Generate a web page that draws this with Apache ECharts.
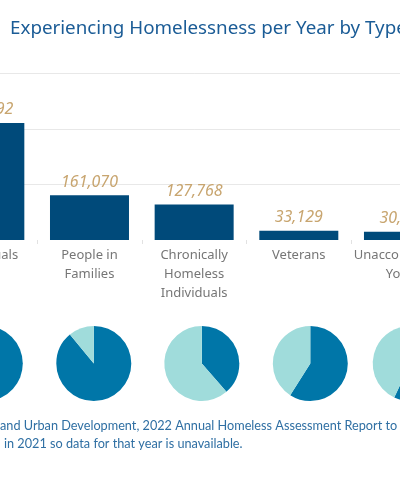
<!DOCTYPE html>
<html>
<head>
<meta charset="utf-8">
<script src="https://cdn.jsdelivr.net/npm/echarts@6/dist/echarts.min.js"></script>
<style>
  html, body { margin: 0; padding: 0; background: #fff; overflow: hidden; width: 400px; height: 499px; }
  /* the chart is wider than the window: it is cut on both sides */
  #chart { position: absolute; left: -68px; top: 0; width: 536px; height: 499px; }
</style>
</head>
<body>
<div id="chart"></div>
<script>
// 2022 AHAR, people experiencing homelessness by type
var categories = ['Individuals', 'People in\nFamilies', 'Chronically\nHomeless\nIndividuals', 'Veterans', 'Unaccompanied\nYouth'];
var totals = [421392, 161070, 127768, 33129, 30090];

// share sheltered / unsheltered (%)
var sheltered = [48.7, 89, 38.6, 59, 57];
var unsheltered = [51.3, 11, 61.4, 41, 43];

var yTicks = [0, 200000, 400000, 600000];

// pie centres, in chart coordinates
var pieX = [53.3, 161.8, 269.8, 378.3, 478.2];

var FONT = '"Noto Sans", "Open Sans", sans-serif';
var NOTE_FONT = 'Lato, "Noto Sans", sans-serif';

var myChart = echarts.init(document.getElementById('chart'));

var series = [{
  type: 'bar',
  data: totals,
  barWidth: 79,
  itemStyle: { color: '#004a7a' },
  label: {
    show: true,
    position: 'top',
    distance: 5,
    fontFamily: FONT,
    fontStyle: 'italic',
    fontSize: 16,
    color: '#c8a56f',
    formatter: function (p) { return p.value.toLocaleString('en-US'); }
  }
}];

// one small pie under each bar
categories.forEach(function (c, i) {
  series.push({
    type: 'pie',
    center: [pieX[i], 363.5],
    radius: [0, 37.5],
    startAngle: 90,
    clockwise: true,
    label: { show: false },
    labelLine: { show: false },
    silent: true,
    data: [
      { name: 'Sheltered', value: sheltered[i], itemStyle: { color: '#0076a8' } },
      { name: 'Unsheltered', value: unsheltered[i], itemStyle: { color: '#a0dcdb' } }
    ]
  });
});

var option = {
  animation: false,
  title: {
    text: 'Experiencing Homelessness per Year by Type',
    left: 73,
    top: 14,
    textStyle: { fontFamily: FONT, fontSize: 18.8, fontWeight: 'normal', color: '#1b5c96' }
  },
  grid: { left: 0.5, top: 73.3, width: 523.3, height: 166.7 },
  xAxis: {
    type: 'category',
    data: categories,
    axisLine: { show: false },
    axisTick: { show: true, length: 4, lineStyle: { color: '#e2e2e2' } },
    axisLabel: {
      margin: 6,
      interval: 0,
      fontFamily: FONT,
      fontSize: 13,
      lineHeight: 19,
      color: '#767676'
    }
  },
  yAxis: {
    type: 'value',
    min: yTicks[0],
    max: yTicks[yTicks.length - 1],
    interval: yTicks[1] - yTicks[0],
    axisLabel: { show: false },
    axisLine: { show: false },
    axisTick: { show: false },
    splitLine: { lineStyle: { color: ['rgba(0,0,0,0)', '#e8e8e8', '#e8e8e8', '#e8e8e8'] } }
  },
  graphic: [
    {
      type: 'text', left: 68, top: 419,
      style: {
        text: 'and Urban Development, 2022 Annual Homeless Assessment Report to Congress',
        font: '12.7px ' + NOTE_FONT, fill: '#2f6fa3'
      }
    },
    {
      type: 'text', left: 72, top: 437,
      style: {
        text: 'in 2021 so data for that year is unavailable.',
        font: '12.7px ' + NOTE_FONT, fill: '#2f6fa3'
      }
    }
  ],
  series: series
};

myChart.setOption(option);
</script>
</body>
</html>
